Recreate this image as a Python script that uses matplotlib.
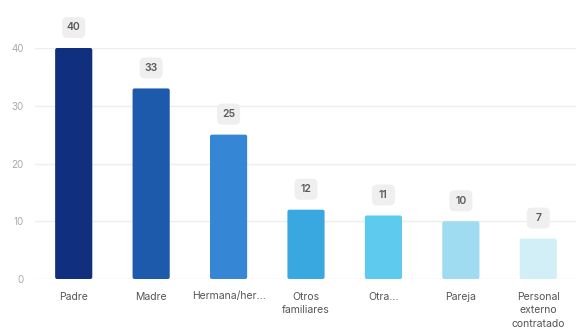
import matplotlib.pyplot as plt
from matplotlib.patches import FancyBboxPatch

categorias = ["Padre", "Madre", "Hermana/her...", "Otros\nfamiliares", "Otra...",
              "Pareja", "Personal\nexterno\ncontratado"]
valores = [40, 33, 25, 12, 11, 10, 7]
colores = ["#10307f", "#1d5aab", "#3586d5", "#39a8e0", "#5ecaed", "#a0dcf1", "#d2eff8"]

plt.rcParams['font.family'] = ['Inter', 'DejaVu Sans']

fig = plt.figure(figsize=(5.76, 3.29), dpi=100)
ax = fig.add_axes([35 / 576, 50 / 329, 542 / 576, 231 / 329])

x = range(len(valores))
barras = ax.bar(x, valores, width=0.48, color=colores, zorder=3)
ax.set_xlim(-0.5, 6.5)
ax.set_ylim(0, 40)

# esquinas ligeramente redondeadas
px_x = 77.4  # px por unidad en x
px_y = 231 / 40  # px por unidad en y
for b in barras:
    r = FancyBboxPatch((b.get_x(), 0), b.get_width(), b.get_height(),
                       boxstyle="round,pad=0,rounding_size=%f" % (2 / px_x),
                       mutation_aspect=px_x / px_y,
                       facecolor=b.get_facecolor(), edgecolor='none', zorder=3)
    ax.add_patch(r)
    b.remove()

ax.set_yticks([0, 10, 20, 30, 40])
ax.grid(axis='y', color='#eeeeee', linewidth=1, zorder=0)
for s in ax.spines.values():
    s.set_visible(False)
ax.tick_params(length=0)
ax.tick_params(axis='y', labelsize=7, labelcolor='#aaaaaa', pad=8)
ax.tick_params(axis='x', labelsize=7.5, labelcolor='#555555', pad=9)
ax.set_xticks(list(x))
ax.set_xticklabels(categorias, linespacing=1.45, va='top')

# etiquetas de valor en cajas redondeadas
trans = ax.transData
for i, v in enumerate(valores):
    px, py = trans.transform((i, v))
    bx, by = fig.transFigure.inverted().transform((px - 11.5, py + 10))
    w = 23 / 576
    h = 21 / 329
    box = FancyBboxPatch((bx, by), w, h, boxstyle="round,pad=0,rounding_size=0.009",
                         transform=fig.transFigure, facecolor='#efefef', edgecolor='none',
                         mutation_aspect=576 / 329)
    fig.add_artist(box)
    fig.text(bx + w / 2, by + h / 2, str(v), ha='center', va='center',
             fontsize=7.5, color='#5a5a5a', fontweight='semibold')

fig.savefig("out.png", dpi=100, facecolor='white')
